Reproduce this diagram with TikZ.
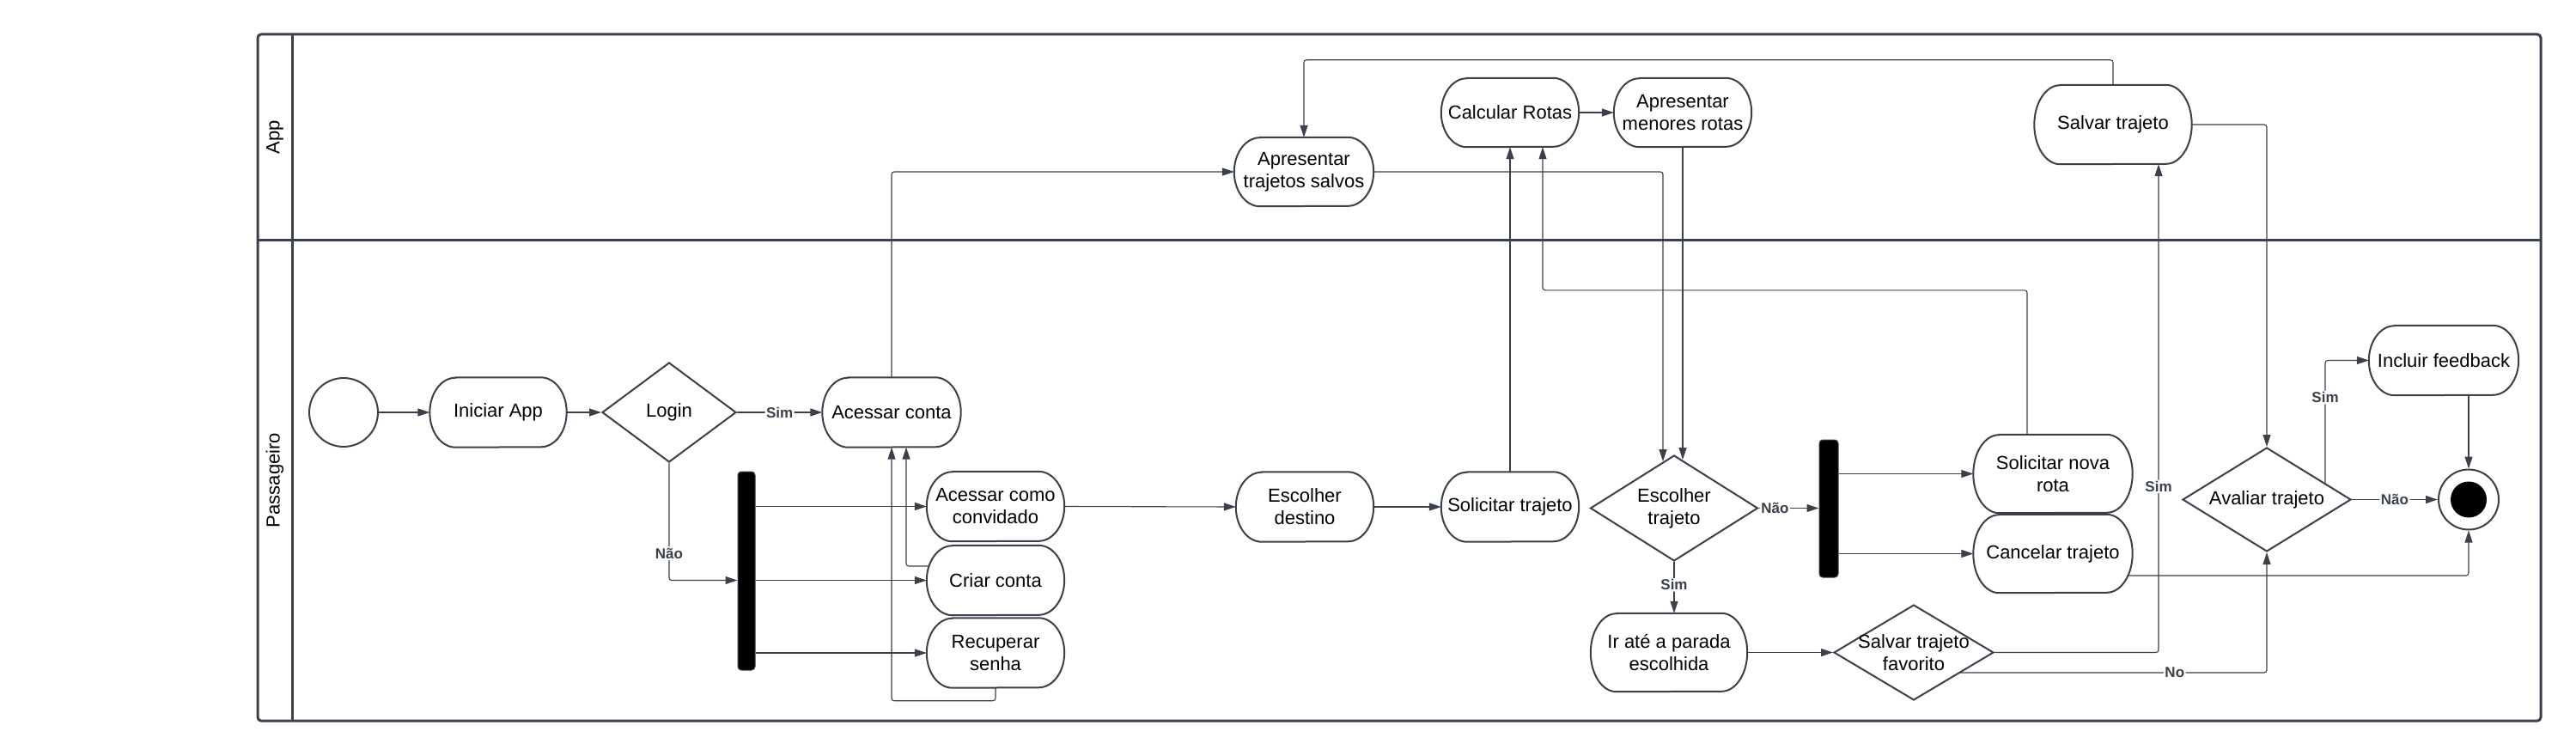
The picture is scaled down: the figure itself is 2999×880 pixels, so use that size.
\documentclass[tikz,border=0pt]{standalone}
\usepackage{fontspec}
\setmainfont{Liberation Sans}
\usetikzlibrary{arrows.meta,shapes.geometric,calc}
\definecolor{lc}{RGB}{58,65,74}
\def\actrx{30pt}
\newcommand\actnode[6]{%
  \node[acttext, minimum width=#4pt, minimum height=#5pt] (#1) at (#2,#3) {#6};
  \draw[actborder] ([xshift=\actrx]#1.north west) -- ([xshift=-\actrx]#1.north east)
    arc[start angle=90, end angle=-90, x radius=\actrx, y radius=#5pt/2]
    -- ([xshift=\actrx]#1.south west)
    arc[start angle=270, end angle=90, x radius=\actrx, y radius=#5pt/2] -- cycle;
}
\newcommand\dianode[6]{%
  \node[dia, minimum width=#4pt, minimum height=#5pt] (#1) at (#2,#3) {};
  \node[acttext] (#1-t) at (#1.center) {#6};
}
\begin{document}
\begin{tikzpicture}[x=1pt,y=-1pt,
  conn/.style={draw=lc, line width=1.1pt, -{Triangle[length=14pt,width=9pt]}, rounded corners=3pt},
  acttext/.style={inner sep=0pt, align=center, font=\fontsize{22}{26}\selectfont, text=black},
  actborder/.style={draw=lc, line width=2pt},
  dia/.style={diamond, draw=lc, line width=2pt, inner sep=0pt, fill=white},
  lbl/.style={fill=white, inner sep=1.5pt, font=\fontsize{17}{20}\selectfont\bfseries, text=lc},
  bar/.style={fill=black, draw=lc, rounded corners=4pt, inner sep=0pt, line width=1pt},
  lane/.style={font=\fontsize{22}{26}\selectfont, text=black, rotate=90, inner sep=0pt}
]
\useasboundingbox (0,0) rectangle (2999,880);
% pool
\draw[draw=lc, line width=3pt, rounded corners=4pt] (300,40) rectangle (2958,839);
\draw[draw=lc, line width=3pt] (340,40) -- (340,839);
\draw[draw=lc, line width=3pt] (300,279) -- (2958,279);
\node[lane] (lapp) at (320,159.5) {App};
\node[lane] (lpas) at (320,559) {Passageiro};

% nodes
\node[circle, draw=lc, line width=2pt, minimum size=80pt, inner sep=0pt] (start) at (400,480) {};
\actnode{ini}{580}{480}{159}{81}{Iniciar App}
\dianode{login}{779}{480}{156}{116}{Login}
\actnode{acc}{1038}{480}{161}{81}{Acessar conta}
\node[bar, minimum width=20pt, minimum height=231pt] (bar1) at (869,664.5) {};
\actnode{conv}{1159}{589.5}{160}{81}{Acessar como\\convidado}
\actnode{crie}{1159}{675.5}{160}{81}{Criar conta}
\actnode{rec}{1159}{760}{160}{81}{Recuperar\\senha}
\actnode{ats}{1518}{200}{162}{80}{Apresentar\\trajetos salvos}
\actnode{escd}{1519}{590}{160}{81}{Escolher\\destino}
\actnode{sol}{1758}{590}{160}{81}{Solicitar trajeto}
\actnode{calc}{1758}{131}{160}{80}{Calcular Rotas}
\actnode{amr}{1959}{131}{160}{80}{Apresentar\\menores rotas}
\dianode{esc}{1949}{591.5}{195}{123}{Escolher\\trajeto}
\actnode{ir}{1943}{759.5}{182}{91}{Ir até a parada\\escolhida}
\node[bar, minimum width=22pt, minimum height=160pt] (bar2) at (2129,592) {};
\actnode{snr}{2390}{551.5}{185}{91}{Solicitar nova\\rota}
\actnode{can}{2390}{644.5}{185}{91}{Cancelar trajeto}
\dianode{sfav}{2228}{759.5}{186}{111}{Salvar trajeto\\favorito}
\actnode{st}{2460}{145}{183}{92}{Salvar trajeto}
\dianode{av}{2639}{581.5}{196}{121}{Avaliar trajeto}
\actnode{incl}{2845}{419.5}{174}{81}{Incluir feedback}
\node[circle, draw=lc, line width=2pt, minimum size=70pt, inner sep=0pt, fill=white] (endn) at (2874,581.5) {};
\node[circle, fill=black, minimum size=42pt, inner sep=0pt] (endi) at (endn.center) {};

% connectors
\draw[conn] (start.east) -- (ini.west);
\draw[conn] (ini.east) -- (login.west);
\draw[conn] (login.east) -- node[lbl]{Sim} (acc.west);
\draw[conn] (login.south) |- node[lbl, pos=0.385]{Não} (bar1.west |- crie.west);
\draw[conn] (bar1.east |- conv.west) -- (conv.west);
\draw[conn] (bar1.east |- crie.west) -- (crie.west);
\draw[conn] (bar1.east |- rec.west) -- (rec.west);
\draw[conn] ([xshift=3pt,yshift=16.5pt]crie.west) -| ([xshift=17pt]acc.south);
\draw[conn] (rec.south) -- ++(0,15) -| (acc.south);
\draw[conn] (acc.north) |- (ats.west);
\draw[conn] (conv.east) -- (escd.west);
\draw[conn] (escd.east) -- (sol.west);
\draw[conn] (sol.north) -- (calc.south);
\draw[conn] ([xshift=-30pt]snr.north) -- ++(0,-168) -| ([xshift=38pt]calc.south);
\draw[conn] (calc.east) -- (amr.west);
\draw[conn] (amr.south) -- ([yshift=-6pt]amr.south |- esc.north);
\draw[conn] (ats.east) -| ([xshift=-13pt,yshift=-8pt]esc.north);
\draw[conn] (esc.south) -- node[lbl, pos=0.45]{Sim} (esc.south |- ir.north);
\draw[conn] (esc.east) -- node[lbl, pos=0.27]{Não} (esc.east -| bar2.west);
\draw[conn] (bar2.east |- snr.west) -- (snr.west);
\draw[conn] (bar2.east |- can.west) -- (can.west);
\draw[conn] (ir.east) -- (sfav.west);
\draw[conn] (sfav.east) -| node[lbl, pos=0.67]{Sim} ([xshift=53pt]st.south);
\draw[conn] (st.north) -- ++(0,-29) -| (ats.north);
\draw[conn] (st.east) -| (av.north);
\draw[conn] ([xshift=53.6pt,yshift=-23.5pt]sfav.center) -| node[lbl, pos=0.35]{No} (av.south);
\draw[conn] (av.east) -- node[lbl]{Não} (endn.west);
\draw[conn] ([xshift=68pt,yshift=18.4pt]av.center) |- node[lbl, pos=0.35]{Sim} (incl.west);
\draw[conn] ([xshift=29pt]incl.south) -- (endn.north);
\draw[conn] ([xshift=-5.5pt,yshift=-25.5pt]can.east) -| (endn.south);
\end{tikzpicture}
\end{document}
